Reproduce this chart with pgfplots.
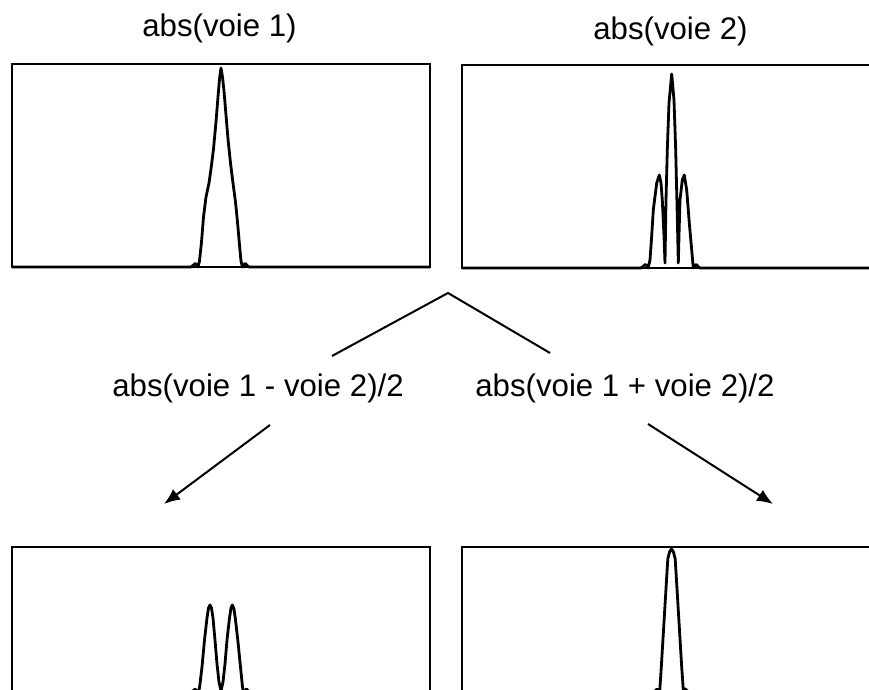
\documentclass[border=0pt]{standalone}
\usepackage{pgfplots}
\pgfplotsset{compat=1.18}
\usepackage{fontspec}
\setmainfont{Liberation Sans}
\usetikzlibrary{arrows.meta}

% one px of the reference = 0.5pt
\pgfplotsset{
  panel/.style={
    scale only axis, anchor=north west,
    width=209pt,
    xmin=-209, xmax=209, ymin=0,
    xtick=\empty, ytick=\empty,
    axis line style={line width=1.2pt},
    clip=false,
  },
  trace/.style={black, line width=1.4pt, line join=round},
}

\begin{document}
\begin{tikzpicture}[font=\fontsize{15.6}{18}\selectfont]
\useasboundingbox (0,0) rectangle (434.5pt,345pt);
\clip (0,0) rectangle (434.5pt,345pt);

% abs(voie 1)
\begin{axis}[panel, at={(6pt,313pt)}, height=101.5pt, ymax=203]
  \addplot[trace] coordinates {
    (-209,0) (-30,0) (-28,1.5) (-26,3.5) (-24.5,2.5) (-23,0)
    (-21.5,6) (-19.5,25) (-17.5,50) (-15,70) (-12,84) (-10,98)
    (-7.5,118) (-5,145) (-3,170) (-1.5,188) (0,199) (1.5,190)
    (3,176) (5,152) (7,128) (9.5,104) (12,84) (14.5,65) (16.5,45)
    (18.5,22) (20,6) (21.5,0) (23,2.5) (24.5,3.5) (26,1.5) (28,0) (209,0)
  };
\end{axis}

% abs(voie 2)
\begin{axis}[panel, at={(231pt,312.5pt)}, height=101.5pt, ymax=203]
  \addplot[trace] coordinates {
    (-209,0) (-30,0) (-28,1.5) (-26,3.5) (-24.5,2.5) (-23,0)
    (-21,8) (-19.3,32) (-17.7,58) (-14.3,85) (-11.7,93) (-10,85)
    (-8.7,68) (-7,32) (-6,5) (-5,68) (-3.7,118) (-2,165) (0.7,194)
    (3,168) (4.7,118) (6.3,51) (7.3,5) (8.2,40) (9,68) (11.3,88)
    (13.3,93) (15.7,78) (18.3,45) (20.7,18) (22.3,0) (24,2.5)
    (25.5,3.5) (27,1.5) (29,0) (209,0)
  };
\end{axis}

% abs(voie 1 - voie 2)/2
\begin{axis}[panel, at={(6pt,71.5pt)}, height=72.5pt, ymax=145]
  \addplot[trace] coordinates {
    (-209,0) (-30,0) (-27.5,1.5) (-26,3) (-24.5,1.5) (-23,0)
    (-21.5,4) (-19,25) (-16.5,52) (-14,74) (-12.5,84) (-11,87)
    (-9.5,84) (-8,74) (-6,52) (-4,28) (-2,10) (0,1) (2,10) (4,28)
    (6,52) (8.5,74) (10,84) (11.3,87) (12.8,84) (14.3,74) (17,50)
    (19.5,25) (21.5,5) (22.5,0) (24,1.5) (25.5,3) (27,1.5) (28.5,0) (209,0)
  };
\end{axis}

% abs(voie 1 + voie 2)/2
\begin{axis}[panel, at={(231pt,71.5pt)}, height=72.5pt, ymax=145]
  \addplot[trace] coordinates {
    (-209,0) (-17,0) (-15.5,1.5) (-14,3) (-12.5,1.5) (-11.7,0)
    (-11.2,2) (-9.7,25) (-8.2,50) (-6.7,75) (-5.2,100) (-3.2,133)
    (-1.5,140) (0.5,143) (2.5,140) (4.2,133) (6.2,100) (7.7,75)
    (9.2,50) (10.7,25) (12.3,2) (12.8,0) (14.3,3) (15.8,1.5) (17.3,0) (209,0)
  };
\end{axis}

% titles and labels
\node[anchor=base] at (109.75pt,326.5pt) {abs(voie 1)};
\node[anchor=base] at (335.25pt,325pt) {abs(voie 2)};
\node[anchor=base west, inner sep=0pt] at (56pt,146.5pt) {abs(voie 1 - voie 2)/2};
\node[anchor=base west, inner sep=0pt] at (237.5pt,146.5pt) {abs(voie 1 + voie 2)/2};

% branching lines and arrows
\draw[line width=1pt] (166pt,167pt) -- (224pt,198.5pt) -- (275pt,168.5pt);
\draw[line width=1pt, -{Latex[length=8pt,width=6.5pt]}] (135pt,132.5pt) -- (82pt,93pt);
\draw[line width=1pt, -{Latex[length=8pt,width=6.5pt]}] (324pt,133pt) -- (386.5pt,93pt);
\end{tikzpicture}
\end{document}
